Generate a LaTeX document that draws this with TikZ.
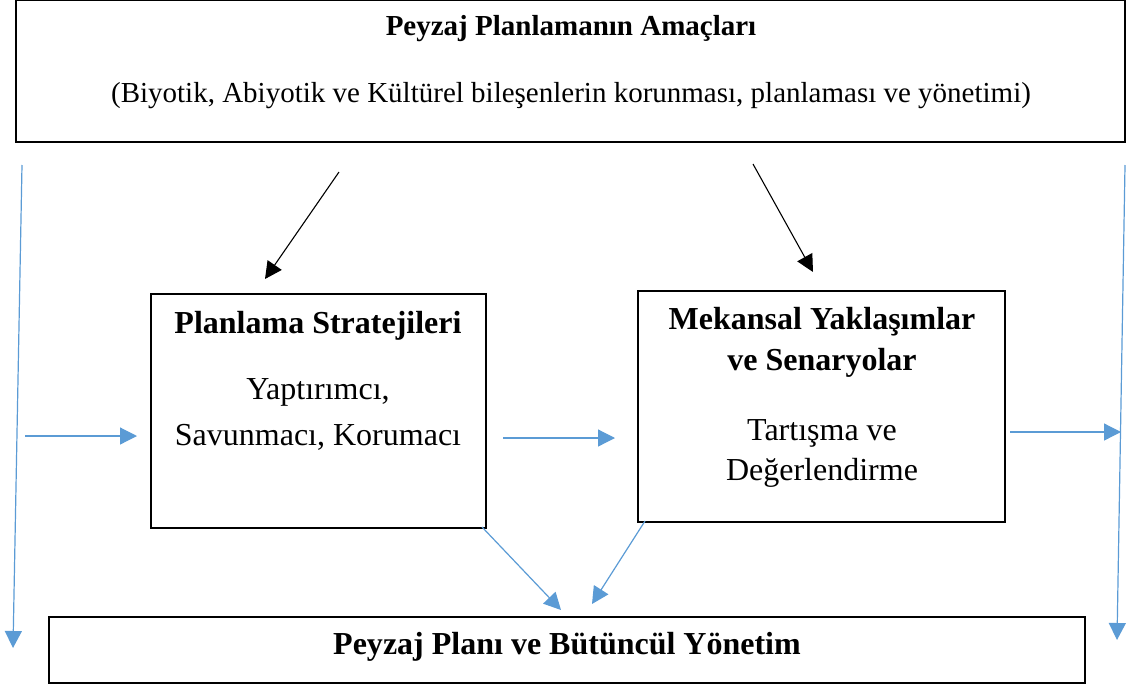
\documentclass[tikz,border=0pt]{standalone}
\usepackage{fontspec}
\setmainfont{Liberation Serif}
\usetikzlibrary{arrows.meta}
\definecolor{flowblue}{RGB}{91,155,213}
\tikzset{
  x=1pt, y=-1pt,
  box/.style={draw=black, line width=1.3pt, fill=white},
  txt/.style={inner sep=0pt, align=center, font=\fontsize{29}{34}\selectfont},
  btxt/.style={txt, font=\fontsize{29}{34}\selectfont\bfseries},
  ltxt/.style={inner sep=0pt, align=center, font=\fontsize{32}{38}\selectfont},
  lbtxt/.style={ltxt, font=\fontsize{32}{38}\selectfont\bfseries},
  blk/.style={draw=black, line width=1.1pt, -{Triangle[length=17pt,width=17pt]}},
  blu/.style={draw=flowblue, line width=1.2pt, -{Triangle[length=17pt,width=17pt]}, color=flowblue},
}
\begin{document}
\begin{tikzpicture}
\useasboundingbox (0,0) rectangle (1126,691);

% boxes
\draw[box] (16,0) rectangle (1125,142);
\draw[box] (151,294) rectangle (486,528);
\draw[box] (638,291) rectangle (1005,522);
\draw[box] (49,617) rectangle (1085,683);

% texts
\node[btxt] (title) at (571,29) {Peyzaj Planlamanın Amaçları};
\node[txt] (sub) at (571,96) {(Biyotik, Abiyotik ve Kültürel bileşenlerin korunması, planlaması ve yönetimi)};
\node[lbtxt] (ps) at (318,326) {Planlama Stratejileri};
\node[ltxt] (ps1) at (318,392) {Yaptırımcı,};
\node[ltxt] (ps2) at (318,437) {Savunmacı, Korumacı};
\node[lbtxt] (mk1) at (822,322) {Mekansal Yaklaşımlar};
\node[lbtxt] (mk2) at (822,363) {ve Senaryolar};
\node[ltxt] (mk3) at (822,433) {Tartışma ve};
\node[ltxt] (mk4) at (822,473) {Değerlendirme};
\node[lbtxt] (bot) at (567,647) {Peyzaj Planı ve Bütüncül Yönetim};

% connector end points
\coordinate (a1s) at (339,172); \coordinate (a1e) at (265,279);
\coordinate (a2s) at (753,164); \coordinate (a2e) at (813,272);
\coordinate (lvs) at (22,165);  \coordinate (lve) at (13,648);
\coordinate (rvs) at (1125,165); \coordinate (rve) at (1117,640);
\coordinate (lhs) at (25,436);  \coordinate (lhe) at (137,436);
\coordinate (mhs) at (503,438); \coordinate (mhe) at (615,438);
\coordinate (rhs) at (1010,432); \coordinate (rhe) at (1121,432);
\coordinate (d1s) at (482,527); \coordinate (d1e) at (561,610);
\coordinate (d2s) at (645,521); \coordinate (d2e) at (592,604);

% connectors
\draw[blk] (a1s) -- (a1e);
\draw[blk] (a2s) -- (a2e);
\draw[blu] (lvs) -- (lve);
\draw[blu] (rvs) -- (rve);
\draw[blu] (lhs) -- (lhe);
\draw[blu] (mhs) -- (mhe);
\draw[blu] (rhs) -- (rhe);
\draw[blu] (d1s) -- (d1e);
\draw[blu] (d2s) -- (d2e);
\end{tikzpicture}
\end{document}
